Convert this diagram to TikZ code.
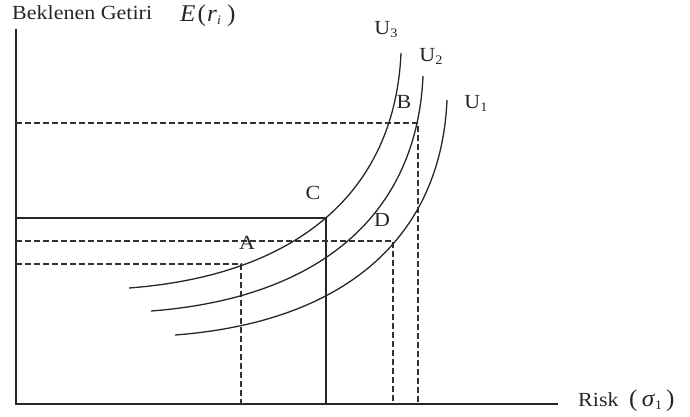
\documentclass[tikz,border=0pt]{standalone}
\usepackage{fontspec}
\setmainfont{Liberation Serif}
\begin{document}
\begin{tikzpicture}[x=1pt,y=-1pt,
  axis/.style={line width=1.5pt, draw=black!85},
  box/.style={line width=1.4pt, draw=black!85},
  ucurve/.style={line width=1.3pt, draw=black!85},
  guide/.style={line width=1.2pt, draw=black!80, dash pattern=on 6pt off 3pt},
  lbl/.style={font=\fontsize{20}{20}\selectfont, text=black!85, inner sep=0pt, xscale=1.1},
  mlbl/.style={font=\fontsize{24}{24}\selectfont, text=black!85, inner sep=0pt, xscale=1.05}]
\useasboundingbox (0,0) rectangle (690,417);
% axes
\coordinate (O) at (16,404);
\coordinate (Ytop) at (16,29);
\coordinate (Xend) at (558,404);
\draw[axis] (Ytop) -- (O) -- (Xend);
% points
\coordinate (A) at (241,264);
\coordinate (B) at (418,123);
\coordinate (C) at (326,218);
\coordinate (D) at (393,241);
% guide lines
\draw[box] (O |- C) -- (C) -- (C |- O);
\draw[guide] (O |- B) -- (B) -- (B |- O);
\draw[guide] (O |- D) -- (D) -- (D |- O);
\draw[guide] (O |- A) -- (A) -- (A |- O);
% indifference curves
\draw[ucurve] (129,288) .. controls (300,275) and (395,190) .. (401,53);
\draw[ucurve, shift={(22,23)}] (129,288) .. controls (300,275) and (395,190) .. (401,53);
\draw[ucurve, shift={(46,47)}] (129,288) .. controls (300,275) and (395,190) .. (401,53);
% labels
\node[lbl, anchor=base west] (ylab) at (12,19.5) {Beklenen Getiri};
\node[mlbl, anchor=base west] (ymath) at (180,22) {\textit{E}\hspace{2pt}(\hspace{1pt}\textit{r}\raisebox{-3pt}{\fontsize{13}{13}\selectfont\textit{i}}\hspace{6pt})};
\node[lbl, anchor=base west] (xlab) at (578,406) {Risk};
\node[mlbl, anchor=base west] (xmath) at (629,406) {(\hspace{4pt}\textit{σ}\raisebox{-3pt}{\fontsize{13}{13}\selectfont 1}\hspace{4pt})};
\node[lbl] (lC) at (313,193) {C};
\node[lbl] (lB) at (404,102) {B};
\node[lbl] (lD) at (382,220) {D};
\node[lbl] (lA) at (247,243) {A};
\node[lbl] (lU3) at (386,30) {U\raisebox{-3pt}{\fontsize{13}{13}\selectfont 3}};
\node[lbl] (lU2) at (431,56) {U\raisebox{-3pt}{\fontsize{13}{13}\selectfont 2}};
\node[lbl] (lU1) at (476,103) {U\raisebox{-3pt}{\fontsize{13}{13}\selectfont 1}};
\end{tikzpicture}
\end{document}
